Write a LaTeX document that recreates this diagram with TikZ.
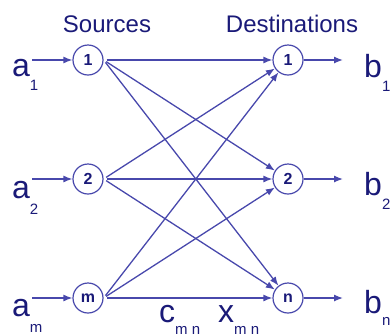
\documentclass[tikz,border=0pt]{standalone}
\usepackage{fontspec}
\setmainfont{Liberation Sans}
\usetikzlibrary{arrows.meta}
\definecolor{linec}{RGB}{72,72,172}
\definecolor{textc}{RGB}{26,26,120}
% lowered subscript for the supply/demand/cost labels
\newcommand\lsub[2][14pt]{\raisebox{-#1}{\fontsize{15}{15}\selectfont #2}}
\tikzset{
  site/.style={circle, draw=linec, fill=white, line width=1.2pt, minimum size=30pt,
    inner sep=0pt, text=textc, font=\fontsize{16}{16}\selectfont\bfseries},
  flow/.style={draw=linec, line width=1.3pt, -{Latex[length=9pt,width=7pt]}},
  route/.style={flow, shorten <=3pt},
  big/.style={anchor=base west, inner sep=0pt, text=textc, font=\fontsize{32}{32}\selectfont},
  head/.style={anchor=base, inner sep=0pt, text=textc, font=\fontsize{24}{24}\selectfont}
}
\begin{document}
\begin{tikzpicture}[x=1pt, y=-1pt]
\useasboundingbox (0,0) rectangle (390,333);

% column headings
\node[head] (hsrc) at (107,32) {Sources};
\node[head] (hdst) at (292,32) {Destinations};

% sources and destinations
\node[site] (s1) at (88,60)  {1};
\node[site] (s2) at (88,179) {2};
\node[site] (sm) at (88,298) {m};
\node[site] (d1) at (288,60)  {1};
\node[site] (d2) at (288,179) {2};
\node[site] (dn) at (288,298) {n};

% supplies
\node[big] (a1) at (12,76)  {a\lsub{1}};
\node[big] (a2) at (12,198) {a\lsub[16pt]{2}};
\node[big] (am) at (12,316) {a\lsub[16pt]{m}};
\coordinate (in1) at (32,60);
\coordinate (in2) at (32,179);
\coordinate (inm) at (32,298);
\draw[flow] (in1) -- (s1);
\draw[flow] (in2) -- (s2);
\draw[flow] (inm) -- (sm);

% demands
\node[big] (b1) at (364,77)  {b\lsub{1}};
\node[big] (b2) at (364,195) {b\lsub{2}};
\node[big] (bn) at (364,313) {b\lsub[12pt]{n}};
\coordinate (out1) at (343,60);
\coordinate (out2) at (343,179);
\coordinate (outn) at (343,298);
\draw[flow] (d1) -- (out1);
\draw[flow] (d2) -- (out2);
\draw[flow] (dn) -- (outn);

% shipping routes
\foreach \s in {s1,s2,sm}
  \foreach \d in {d1,d2,dn}
    \draw[route] (\s.east) -- (\d);

% cost and amount on route m -> n
\node[big] (cmn) at (159,322) {c\lsub[12pt]{m n}};
\node[big] (xmn) at (218,322) {x\lsub[12pt]{m n}};
\end{tikzpicture}
\end{document}
